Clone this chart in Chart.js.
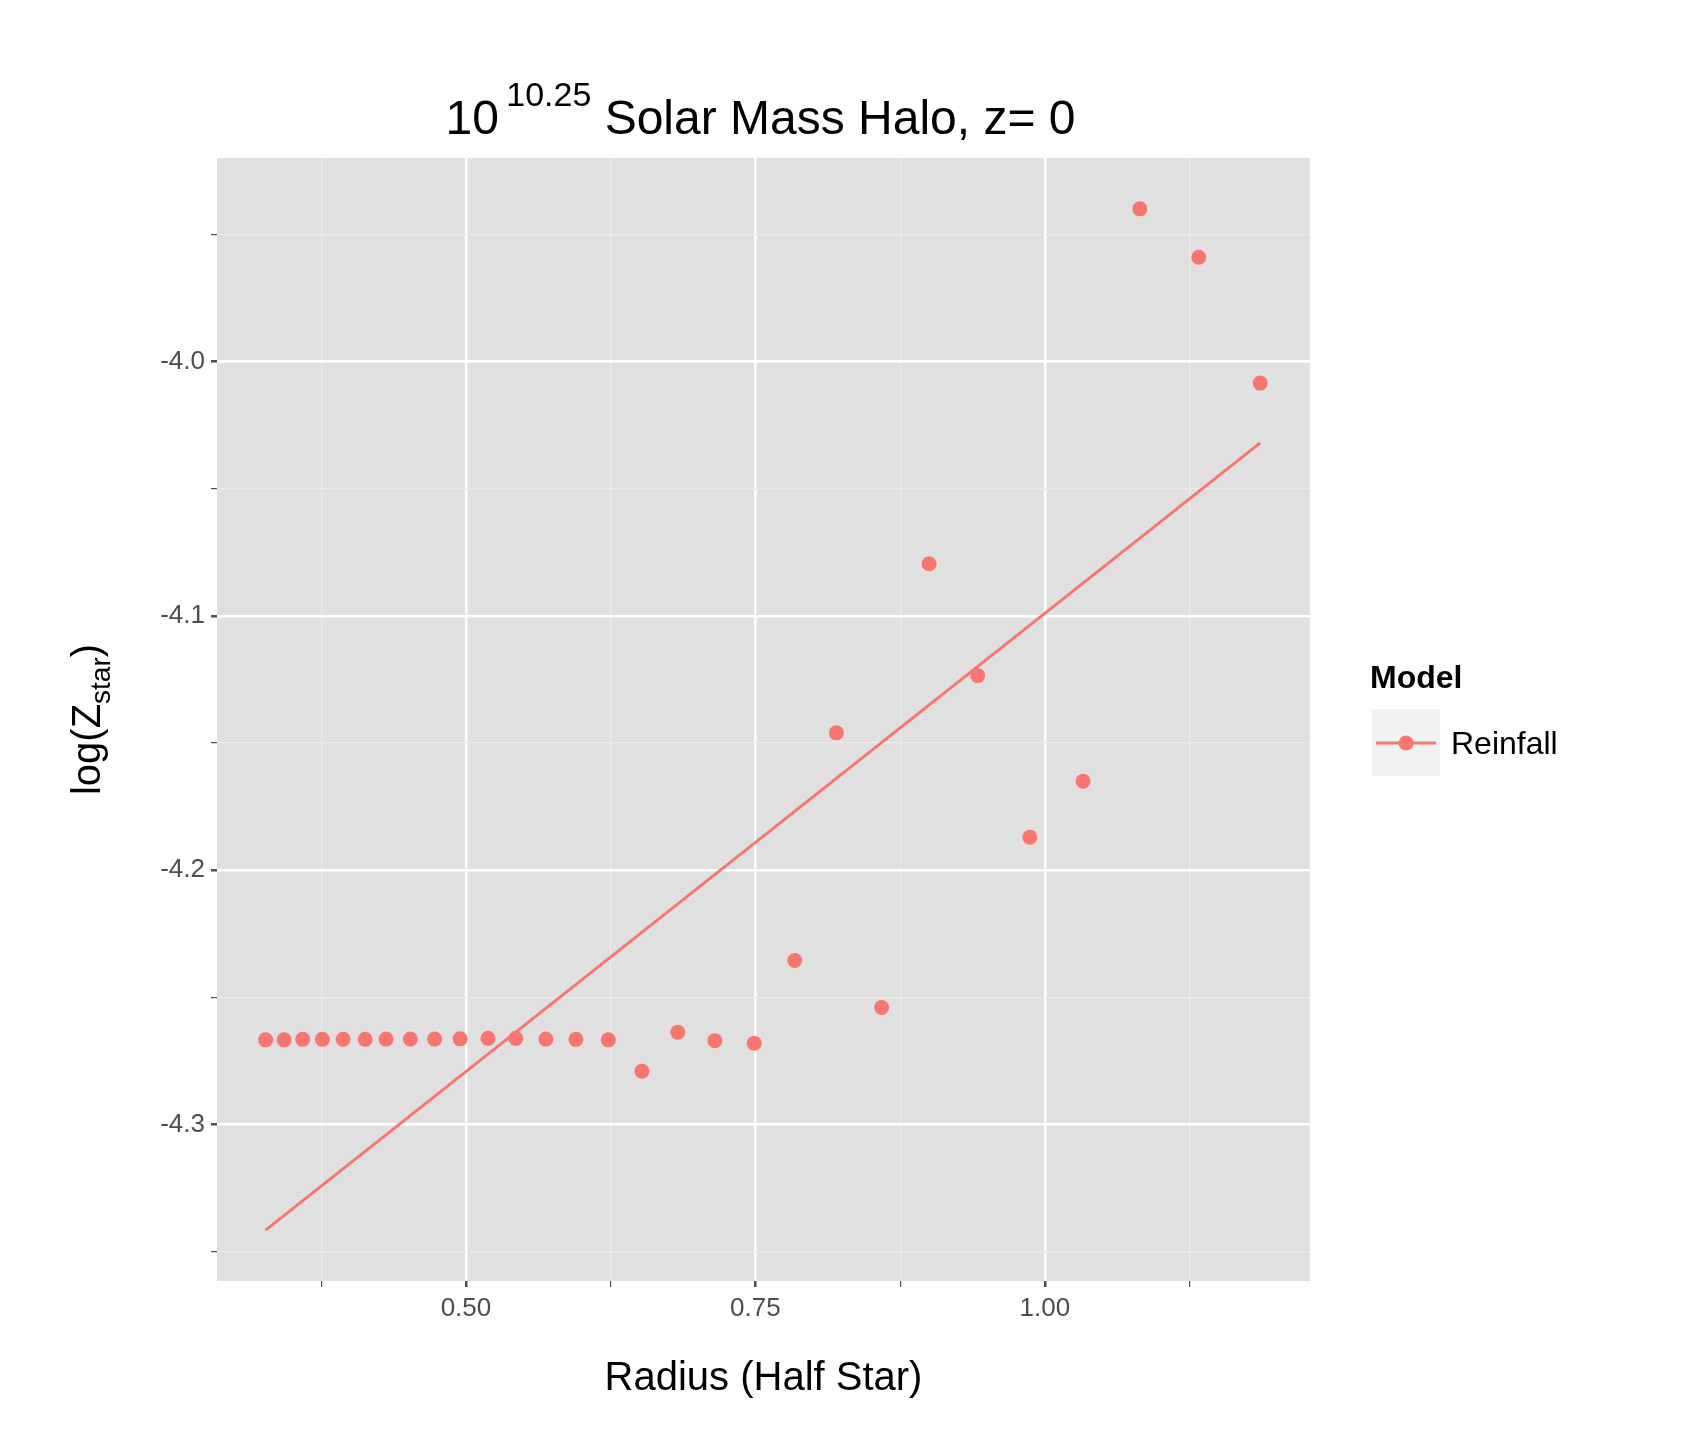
<!DOCTYPE html>
<html>
<head>
<script src="https://cdn.jsdelivr.net/npm/chart.js@4/dist/chart.umd.min.js"></script>
<style>body{margin:0;background:#fff}</style>
</head>
<body>
<canvas id="c" width="1696" height="1429"></canvas>
<script>
const radius = [0.327, 0.343, 0.359, 0.376, 0.394, 0.413, 0.431, 0.452, 0.473, 0.495, 0.519, 0.543, 0.569, 0.595, 0.623,
  0.652, 0.683, 0.715, 0.749, 0.784, 0.820, 0.859, 0.900, 0.942, 0.987, 1.033, 1.082, 1.133, 1.186];
const logZ = [-4.2667, -4.2667, -4.2665, -4.2665, -4.2665, -4.2665, -4.2664, -4.2664, -4.2664, -4.2663, -4.2661, -4.2661, -4.2664, -4.2665, -4.2667,
  -4.279, -4.2637, -4.267, -4.268, -4.2355, -4.146, -4.254, -4.0795, -4.1235, -4.187, -4.165, -3.940, -3.959, -4.0085];
const fitX = [0.327, 1.186];
const fitY = [-4.3415, -4.032];
const xMajor = [0.50, 0.75, 1.00];
const yMajor = [-4.0, -4.1, -4.2, -4.3];

const red = '#F8766D';
const isMajor = (v, list) => list.some(m => Math.abs(m - v) < 1e-6);

const extras = {
  id: 'extras',
  beforeDraw(chart) {
    const {ctx, chartArea: a} = chart;
    ctx.save();
    ctx.fillStyle = '#e0e0e0';
    ctx.fillRect(a.left, a.top, a.right - a.left, a.bottom - a.top);
    ctx.restore();
  },
  afterDraw(chart) {
    const {ctx, chartArea: a} = chart;
    ctx.save();
    ctx.fillStyle = '#000';
    ctx.textBaseline = 'alphabetic';
    // title with superscript
    ctx.font = '48px "Liberation Sans", Arial, sans-serif';
    const p1 = '10 ', p3 = ' Solar Mass Halo, z= 0';
    ctx.font = '34px "Liberation Sans", Arial, sans-serif';
    const wSup = ctx.measureText('10.25').width;
    ctx.font = '48px "Liberation Sans", Arial, sans-serif';
    const w1 = ctx.measureText(p1).width, w3 = ctx.measureText(p3).width;
    let x = (a.left + a.right) / 2 - (w1 + wSup + w3) / 2;
    const ty = 134;
    ctx.fillText(p1, x, ty); x += w1;
    ctx.font = '34px "Liberation Sans", Arial, sans-serif';
    ctx.fillText('10.25', x - 6, ty - 28); x += wSup - 6;
    ctx.font = '48px "Liberation Sans", Arial, sans-serif';
    ctx.fillText(p3, x, ty);
    // x title
    ctx.font = '40px "Liberation Sans", Arial, sans-serif';
    ctx.textAlign = 'center';
    ctx.fillText('Radius (Half Star)', (a.left + a.right) / 2, 1390);
    // y title with subscript
    ctx.translate(100, (a.top + a.bottom) / 2);
    ctx.rotate(-Math.PI / 2);
    ctx.textAlign = 'left';
    const t1 = 'log(Z', t3 = ')';
    ctx.font = '40px "Liberation Sans", Arial, sans-serif';
    const a1 = ctx.measureText(t1).width, a3 = ctx.measureText(t3).width;
    ctx.font = '28px "Liberation Sans", Arial, sans-serif';
    const a2 = ctx.measureText('star').width;
    let yx = -(a1 + a2 + a3) / 2;
    ctx.font = '40px "Liberation Sans", Arial, sans-serif';
    ctx.fillText(t1, yx, 0); yx += a1;
    ctx.font = '28px "Liberation Sans", Arial, sans-serif';
    ctx.fillText('star', yx, 10); yx += a2;
    ctx.font = '40px "Liberation Sans", Arial, sans-serif';
    ctx.fillText(t3, yx, 0);
    ctx.restore();
    // legend
    ctx.save();
    ctx.font = 'bold 32px "Liberation Sans", Arial, sans-serif';
    ctx.fillStyle = '#000';
    ctx.fillText('Model', 1370, 688);
    ctx.fillStyle = '#f2f2f2';
    ctx.fillRect(1372, 709, 68, 67);
    ctx.strokeStyle = red; ctx.lineWidth = 3;
    ctx.beginPath(); ctx.moveTo(1376, 743); ctx.lineTo(1436, 743); ctx.stroke();
    ctx.fillStyle = red;
    ctx.beginPath(); ctx.arc(1406, 743, 7.5, 0, Math.PI * 2); ctx.fill();
    ctx.fillStyle = '#000';
    ctx.font = '32px "Liberation Sans", Arial, sans-serif';
    ctx.textBaseline = 'middle';
    ctx.fillText('Reinfall', 1451, 745);
    ctx.restore();
  }
};

new Chart(document.getElementById('c'), {
  type: 'scatter',
  data: {
    datasets: [{
      type: 'line',
      data: fitX.map((v, i) => ({x: v, y: fitY[i]})),
      borderColor: red, borderWidth: 3, pointRadius: 0
    }, {
      data: radius.map((v, i) => ({x: v, y: logZ[i]})),
      backgroundColor: red, borderWidth: 0, pointRadius: 7.5
    }]
  },
  options: {
    responsive: false, animation: false,
    layout: {padding: {left: 0, right: 386, top: 158, bottom: 0}},
    plugins: {legend: {display: false}, tooltip: {enabled: false}},
    scales: {
      x: {
        type: 'linear', min: 0.285, max: 1.229,
        afterBuildTicks: s => { s.ticks = [0.375, 0.5, 0.625, 0.75, 0.875, 1.0, 1.125].map(v => ({value: v})); },
        afterFit: s => { s.height = 148; },
        ticks: {
          callback: v => isMajor(v, xMajor) ? v.toFixed(2) : '',
          color: '#4d4d4d', font: {size: 26, family: '"Liberation Sans", Arial, sans-serif'}, padding: 6, maxRotation: 0, autoSkip: false
        },
        border: {display: false},
        grid: {
          color: c => isMajor(c.tick.value, xMajor) ? '#ffffff' : '#ececec',
          lineWidth: c => isMajor(c.tick.value, xMajor) ? 2.5 : 1.2,
          tickLength: 6, tickColor: '#4d4d4d'
        }
      },
      y: {
        type: 'linear', min: -4.3615, max: -3.920,
        afterBuildTicks: s => { s.ticks = [-4.35, -4.3, -4.25, -4.2, -4.15, -4.1, -4.05, -4.0, -3.95].map(v => ({value: v})); },
        afterFit: s => { s.width = 217; },
        ticks: {
          callback: v => isMajor(v, yMajor) ? v.toFixed(1) : '',
          color: '#4d4d4d', font: {size: 26, family: '"Liberation Sans", Arial, sans-serif'}, padding: 6, autoSkip: false
        },
        border: {display: false},
        grid: {
          color: c => isMajor(c.tick.value, yMajor) ? '#ffffff' : '#ececec',
          lineWidth: c => isMajor(c.tick.value, yMajor) ? 2.5 : 1.2,
          tickLength: 6, tickColor: '#4d4d4d'
        }
      }
    }
  },
  plugins: [extras]
});
</script>
</body>
</html>
